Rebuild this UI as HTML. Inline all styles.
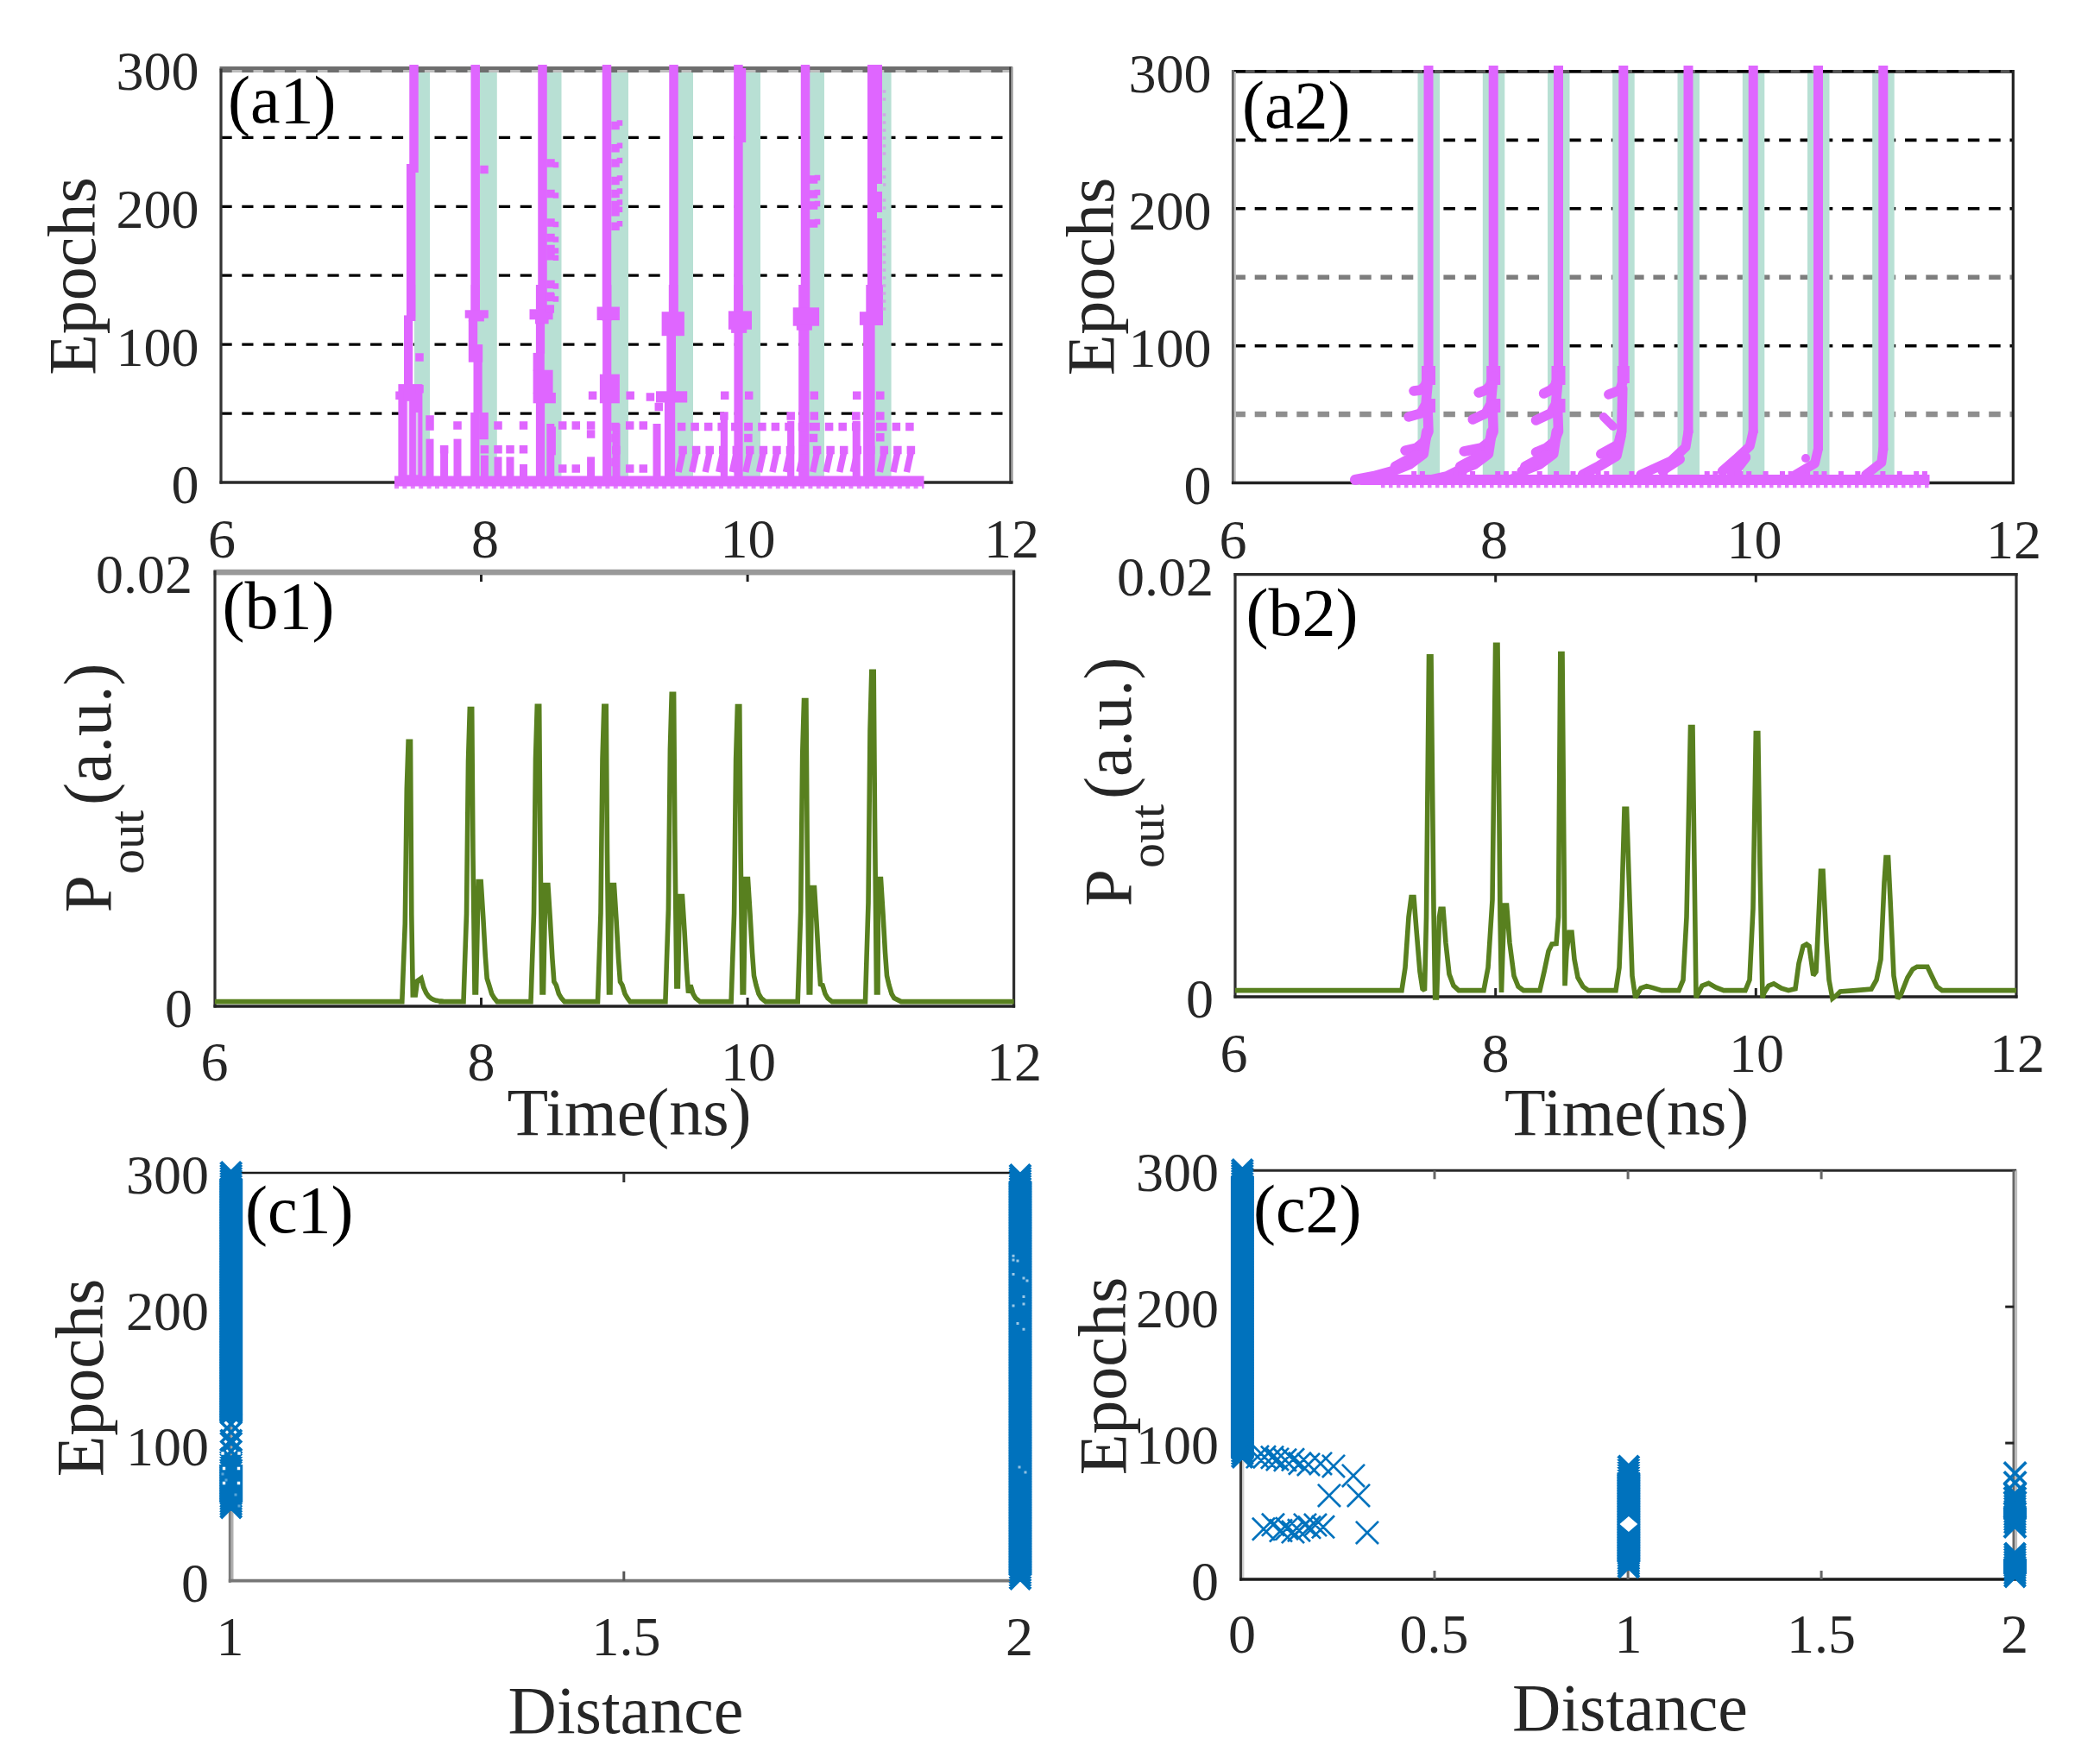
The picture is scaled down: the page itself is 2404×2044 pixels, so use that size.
<!DOCTYPE html>
<html lang="en"><head><meta charset="utf-8"><title>Epochs, P out (a.u.) and Distance panels</title>
<style>html,body{margin:0;padding:0;background:#fff}body{width:2404px;height:2044px;overflow:hidden}svg{display:block}text{font-family:"Liberation Serif",serif}</style></head><body>
<svg width="2404" height="2044" viewBox="0 0 2404 2044">
<rect width="2404" height="2044" fill="#fff"/>
<g id="a1">
<line x1="256" y1="159.4" x2="1171.5" y2="159.4" stroke="#000" stroke-width="3.2" stroke-dasharray="13.2 11.6" stroke-dashoffset="0.5"/>
<line x1="256" y1="239.3" x2="1171.5" y2="239.3" stroke="#000" stroke-width="3.2" stroke-dasharray="13.2 11.6" stroke-dashoffset="0.5"/>
<line x1="256" y1="319.2" x2="1171.5" y2="319.2" stroke="#000" stroke-width="3.2" stroke-dasharray="13.2 11.6" stroke-dashoffset="0.5"/>
<line x1="256" y1="399.2" x2="1171.5" y2="399.2" stroke="#000" stroke-width="3.2" stroke-dasharray="13.2 11.6" stroke-dashoffset="0.5"/>
<line x1="256" y1="479.1" x2="1171.5" y2="479.1" stroke="#000" stroke-width="3.2" stroke-dasharray="13.2 11.6" stroke-dashoffset="0.5"/>
<rect x="480" y="79.5" width="18" height="479.5" fill="#b8e0d4"/>
<rect x="552" y="79.5" width="23.8" height="479.5" fill="#b8e0d4"/>
<rect x="629" y="79.5" width="21.5" height="479.5" fill="#b8e0d4"/>
<rect x="704" y="79.5" width="24" height="479.5" fill="#b8e0d4"/>
<rect x="780" y="79.5" width="23" height="479.5" fill="#b8e0d4"/>
<rect x="856" y="79.5" width="25" height="479.5" fill="#b8e0d4"/>
<rect x="933" y="79.5" width="22" height="479.5" fill="#b8e0d4"/>
<rect x="1010" y="79.5" width="22.6" height="479.5" fill="#b8e0d4"/>
<rect x="254.5" y="77" width="918.5" height="4" fill="#6e6e6e"/>
<rect x="254.5" y="81" width="918.5" height="3" fill="#bdbdbd"/>
<line x1="256" y1="82.5" x2="1171.5" y2="82.5" stroke="#6e6e6e" stroke-width="3" stroke-dasharray="13.2 11.6" stroke-dashoffset="0.5"/>
<line x1="256" y1="79.5" x2="256" y2="560.5" stroke="#333" stroke-width="3.2"/>
<line x1="1170.5" y1="77.5" x2="1170.5" y2="560.5" stroke="#333" stroke-width="2.4"/>
<line x1="1172.5" y1="77.5" x2="1172.5" y2="560.5" stroke="#9a9a9a" stroke-width="2.4"/>
<line x1="254.5" y1="559" x2="1173.5" y2="559" stroke="#2a2a2a" stroke-width="3.4"/>
<line x1="479.5" y1="75" x2="479.5" y2="200" stroke="#df66ff" stroke-width="10.5"/>
<line x1="476.2" y1="190" x2="476.2" y2="372" stroke="#df66ff" stroke-width="10.5"/>
<line x1="550.7" y1="75" x2="550.7" y2="372" stroke="#df66ff" stroke-width="10.5"/>
<line x1="628.5" y1="75" x2="628.5" y2="372" stroke="#df66ff" stroke-width="10.5"/>
<line x1="703" y1="75" x2="703" y2="372" stroke="#df66ff" stroke-width="10.5"/>
<line x1="780.5" y1="75" x2="780.5" y2="372" stroke="#df66ff" stroke-width="10.5"/>
<line x1="855.4" y1="75" x2="855.4" y2="372" stroke="#df66ff" stroke-width="10.5"/>
<line x1="933" y1="75" x2="933" y2="372" stroke="#df66ff" stroke-width="10.5"/>
<line x1="1013.5" y1="75" x2="1013.5" y2="372" stroke="#df66ff" stroke-width="17"/>
<rect x="471.2" y="330" width="9.9" height="37.8" fill="#df66ff"/>
<rect x="468" y="365.4" width="10.2" height="83" fill="#df66ff"/>
<rect x="461.4" y="445.1" width="28" height="108.5" fill="#df66ff"/>
<path d="M472.9 464.8V550.3" stroke="#f3d9fb" stroke-width="2.5"/>
<path d="M483.1 478V550.3" stroke="#d9c9ee" stroke-width="2.5"/>
<rect x="545.6" y="330" width="10.4" height="29.6" fill="#df66ff"/>
<rect x="538.7" y="359.3" width="27.1" height="9.4" fill="#df66ff"/>
<rect x="542.8" y="367" width="18.1" height="5.4" fill="#df66ff"/>
<rect x="542.8" y="371.1" width="10.4" height="29.6" fill="#df66ff"/>
<rect x="542.8" y="399.1" width="16.4" height="20.6" fill="#df66ff"/>
<rect x="548.5" y="418.8" width="10.2" height="60" fill="#df66ff"/>
<rect x="545.2" y="478" width="10.2" height="75.6" fill="#df66ff"/>
<rect x="555.1" y="478" width="10.7" height="31.2" fill="#df66ff"/>
<rect x="620.9" y="330" width="10.2" height="28.8" fill="#df66ff"/>
<rect x="613.5" y="358.3" width="27.1" height="12" fill="#df66ff"/>
<rect x="620" y="369.5" width="15.6" height="5.8" fill="#df66ff"/>
<rect x="620.9" y="374.4" width="10.2" height="35.4" fill="#df66ff"/>
<rect x="617.6" y="408.9" width="13.2" height="20.6" fill="#df66ff"/>
<rect x="617.6" y="428.7" width="23" height="27.1" fill="#df66ff"/>
<rect x="617.6" y="455" width="26.3" height="12.3" fill="#df66ff"/>
<rect x="620.9" y="466.5" width="10.2" height="87.1" fill="#df66ff"/>
<rect x="634" y="494.4" width="9.9" height="32.9" fill="#df66ff"/>
<rect x="698.1" y="330" width="10.2" height="26.3" fill="#df66ff"/>
<rect x="691.6" y="355.5" width="26.3" height="15.6" fill="#df66ff"/>
<rect x="698.1" y="370.3" width="10.2" height="64.1" fill="#df66ff"/>
<rect x="694.9" y="433.6" width="23" height="33.7" fill="#df66ff"/>
<rect x="698.1" y="466.5" width="10.2" height="87.1" fill="#df66ff"/>
<rect x="774.8" y="330" width="10.7" height="32.9" fill="#df66ff"/>
<rect x="766.6" y="361.2" width="26.3" height="28" fill="#df66ff"/>
<rect x="772.3" y="387.5" width="10.7" height="67.4" fill="#df66ff"/>
<rect x="760" y="453.3" width="36.2" height="13.2" fill="#df66ff"/>
<rect x="769.9" y="464.8" width="12.3" height="88.8" fill="#df66ff"/>
<rect x="850.4" y="330" width="10.2" height="223.6" fill="#df66ff"/>
<rect x="843.9" y="360.4" width="27.1" height="21.4" fill="#df66ff"/>
<rect x="847.1" y="381" width="18.1" height="4.9" fill="#df66ff"/>
<rect x="834.8" y="478" width="8.2" height="75.6" fill="#df66ff"/>
<rect x="925.2" y="330" width="12.3" height="223.6" fill="#df66ff"/>
<rect x="918.7" y="356.3" width="30.4" height="21.4" fill="#df66ff"/>
<rect x="922.8" y="376.9" width="18.1" height="5.8" fill="#df66ff"/>
<rect x="912.1" y="487.8" width="8.2" height="65.8" fill="#df66ff"/>
<rect x="1003.3" y="330" width="19.7" height="46.9" fill="#df66ff"/>
<rect x="995.9" y="361.2" width="27.1" height="15.6" fill="#df66ff"/>
<rect x="1000.1" y="376" width="13.5" height="177.6" fill="#df66ff"/>
<rect x="987.7" y="487.8" width="9" height="65.8" fill="#df66ff"/>
<path d="M1024.5 106h0M1024.5 115h0M1024.5 133h0M1024.5 142h0M1024.5 151h0M1024.5 160h0M1024.5 169h0M1024.5 178h0M1024.5 196h0M1024.5 205h0M1024.5 214h0M1024.5 232h0M1024.5 241h0M1024.5 268h0M1024.5 277h0M1024.5 286h0M1024.5 295h0M1024.5 304h0M1024.5 313h0M1024.5 322h0M1024.5 331h0M1024.5 340h0M1024.5 349h0M1024.5 358h0" stroke="#cda9e6" stroke-width="3.6" stroke-linecap="square" fill="none"/>
<rect x="860" y="79" width="4.2" height="86" fill="#df66ff"/>
<rect x="1016" y="213" width="7" height="9" fill="#b8e0d4"/>
<rect x="1016" y="246" width="7" height="7" fill="#b8e0d4"/>
<line x1="457" y1="557.5" x2="1070.5" y2="557.5" stroke="#df66ff" stroke-width="12"/>
<line x1="457" y1="564.5" x2="1070.5" y2="564.5" stroke="#df66ff" stroke-width="3.5" stroke-dasharray="5 4.4" opacity="0.8"/>
<line x1="498" y1="559" x2="498" y2="508.6" stroke="#df66ff" stroke-width="9"/>
<line x1="514.6" y1="559" x2="514.6" y2="517" stroke="#df66ff" stroke-width="9"/>
<line x1="530" y1="559" x2="530" y2="508.6" stroke="#df66ff" stroke-width="9"/>
<line x1="561.4" y1="559" x2="561.4" y2="527.6" stroke="#df66ff" stroke-width="9"/>
<line x1="577" y1="559" x2="577" y2="529.4" stroke="#df66ff" stroke-width="9"/>
<line x1="591" y1="559" x2="591" y2="529.4" stroke="#df66ff" stroke-width="9"/>
<line x1="606.5" y1="559" x2="606.5" y2="538" stroke="#df66ff" stroke-width="9"/>
<line x1="637.8" y1="559" x2="637.8" y2="491" stroke="#df66ff" stroke-width="9"/>
<line x1="684.6" y1="559" x2="684.6" y2="529.4" stroke="#df66ff" stroke-width="9"/>
<line x1="714" y1="559" x2="714" y2="491" stroke="#df66ff" stroke-width="9"/>
<line x1="761" y1="559" x2="761" y2="491" stroke="#df66ff" stroke-width="9"/>
<line x1="791.1" y1="524" x2="786.1" y2="547" stroke="#df66ff" stroke-width="7.5"/>
<line x1="806.6" y1="524" x2="801.6" y2="547" stroke="#df66ff" stroke-width="7.5"/>
<line x1="822.2" y1="524" x2="817.2" y2="547" stroke="#df66ff" stroke-width="7.5"/>
<line x1="837.7" y1="524" x2="832.7" y2="547" stroke="#df66ff" stroke-width="7.5"/>
<line x1="853.3" y1="524" x2="848.3" y2="547" stroke="#df66ff" stroke-width="7.5"/>
<line x1="868.8" y1="524" x2="863.8" y2="547" stroke="#df66ff" stroke-width="7.5"/>
<line x1="884.4" y1="524" x2="879.4" y2="547" stroke="#df66ff" stroke-width="7.5"/>
<line x1="899.9" y1="524" x2="894.9" y2="547" stroke="#df66ff" stroke-width="7.5"/>
<line x1="915.5" y1="524" x2="910.5" y2="547" stroke="#df66ff" stroke-width="7.5"/>
<line x1="931" y1="524" x2="926" y2="547" stroke="#df66ff" stroke-width="7.5"/>
<line x1="946.6" y1="524" x2="941.6" y2="547" stroke="#df66ff" stroke-width="7.5"/>
<line x1="962.1" y1="524" x2="957.1" y2="547" stroke="#df66ff" stroke-width="7.5"/>
<line x1="977.7" y1="524" x2="972.7" y2="547" stroke="#df66ff" stroke-width="7.5"/>
<line x1="993.2" y1="524" x2="988.2" y2="547" stroke="#df66ff" stroke-width="7.5"/>
<line x1="1008.8" y1="524" x2="1003.8" y2="547" stroke="#df66ff" stroke-width="7.5"/>
<line x1="1024.3" y1="524" x2="1019.3" y2="547" stroke="#df66ff" stroke-width="7.5"/>
<line x1="1039.9" y1="524" x2="1034.9" y2="547" stroke="#df66ff" stroke-width="7.5"/>
<line x1="1055.4" y1="524" x2="1050.4" y2="547" stroke="#df66ff" stroke-width="7.5"/>
<path d="M486 413.9h0M486 450.8h0M463 458.2h0M637.3 343.2h0M637.3 358h0M686.6 458.2h0M730.2 458.2h0M712.9 494.4h0M712.9 507.6h0M713.8 521.5h0M712.9 535.5h0M753.4 459.9h0M763.3 471.4h0M839.7 458.2h0M867.7 458.2h0M838.9 482.1h0M866.9 494.4h0M866.9 507.6h0M943.3 458.2h0M916.2 482.1h0M943.3 482.1h0M942.5 494.4h0M942.5 507.6h0M992.7 458.2h0M1019.8 458.2h0M991.8 482.1h0M1019.8 482.1h0M1019.8 494.4h0M1019.8 506.8h0M561 196.5h0M638 189h0M638 224.4h0M638 258h0M638 275.4h0M638 288.5h0M638 296.8h0M638 329.6h0M638 344.4h0M713 145.5h0M713 171.8h0M713 189h0M713 209.6h0M713 224.4h0M713 237.6h0M713 245.8h0M713 262.2h0M942.6 208h0M942.6 225h0M942.6 238h0M942.6 259h0M498 486h0M498 494h0M514.6 520.7h0M530 493h0M561.4 520.7h0M577 493h0M577 520.7h0M591 520.7h0M606.5 493h0M606.5 520.7h0M651.7 493h0M651.7 543h0M667.3 493h0M667.3 543h0M684.6 493h0M684.6 503h0M729.7 493h0M729.7 543h0M745.3 493h0M745.3 543h0M789.6 494.4h0M791.1 521.5h0M805.1 494.4h0M806.6 521.5h0M820.7 494.4h0M822.2 521.5h0M836.2 494.4h0M837.7 521.5h0M851.8 494.4h0M853.3 521.5h0M867.3 494.4h0M868.8 521.5h0M882.9 494.4h0M884.4 521.5h0M898.4 494.4h0M899.9 521.5h0M914 494.4h0M915.5 521.5h0M929.5 494.4h0M931 521.5h0M945.1 494.4h0M946.6 521.5h0M960.6 494.4h0M962.1 521.5h0M976.2 494.4h0M977.7 521.5h0M991.7 494.4h0M993.2 521.5h0M1007.3 494.4h0M1008.8 521.5h0M1022.8 494.4h0M1024.3 521.5h0M1038.4 494.4h0M1039.9 521.5h0M1053.9 494.4h0M1055.4 521.5h0" stroke="#df66ff" stroke-width="9.5" stroke-linecap="square" fill="none"/>
<path d="M644 191h0M644 226.4h0M644 260h0M644 277.4h0M644 290.5h0M644 298.8h0M644 331.6h0M644 346.4h0M718 142.5h0M718 168.8h0M718 186h0M718 206.6h0M718 221.4h0M718 234.6h0M718 242.8h0M718 259.2h0M947 206h0M947 223h0M947 236h0M947 257h0" stroke="#df66ff" stroke-width="6.5" stroke-linecap="square" fill="none"/>
</g>
<g id="a2">
<line x1="1429.4" y1="162.4" x2="2332.3" y2="162.4" stroke="#000" stroke-width="3.6" stroke-dasharray="13.5 10.8" stroke-dashoffset="0"/>
<line x1="1429.4" y1="241.8" x2="2332.3" y2="241.8" stroke="#000" stroke-width="3.6" stroke-dasharray="13.5 10.8" stroke-dashoffset="0"/>
<line x1="1429.4" y1="321.2" x2="2332.3" y2="321.2" stroke="#7d7d7d" stroke-width="5.5" stroke-dasharray="13.5 10.8" stroke-dashoffset="0"/>
<line x1="1429.4" y1="400.7" x2="2332.3" y2="400.7" stroke="#000" stroke-width="3.6" stroke-dasharray="13.5 10.8" stroke-dashoffset="0"/>
<line x1="1429.4" y1="480.1" x2="2332.3" y2="480.1" stroke="#8e8e8e" stroke-width="6.5" stroke-dasharray="13.5 10.8" stroke-dashoffset="0"/>
<rect x="1642.5" y="83" width="25.5" height="476.5" fill="#b8e0d4"/>
<rect x="1717.8" y="83" width="25.5" height="476.5" fill="#b8e0d4"/>
<rect x="1793" y="83" width="25.5" height="476.5" fill="#b8e0d4"/>
<rect x="1868.2" y="83" width="25.5" height="476.5" fill="#b8e0d4"/>
<rect x="1943.5" y="83" width="25.5" height="476.5" fill="#b8e0d4"/>
<rect x="2018.8" y="83" width="25.5" height="476.5" fill="#b8e0d4"/>
<rect x="2094" y="83" width="25.5" height="476.5" fill="#b8e0d4"/>
<rect x="2169.2" y="83" width="25.5" height="476.5" fill="#b8e0d4"/>
<line x1="1429.4" y1="83" x2="2332.3" y2="83" stroke="#555" stroke-width="4"/>
<line x1="1429.4" y1="82.5" x2="2332.3" y2="82.5" stroke="#000" stroke-width="3" stroke-dasharray="13.5 10.8" stroke-dashoffset="0"/>
<line x1="1428.4" y1="81" x2="1428.4" y2="561" stroke="#666" stroke-width="3"/>
<line x1="1430.9" y1="83" x2="1430.9" y2="559.5" stroke="#c4c4c4" stroke-width="2"/>
<line x1="2332.3" y1="81" x2="2332.3" y2="561" stroke="#222" stroke-width="3.2"/>
<line x1="1426.9" y1="559.5" x2="2333.8" y2="559.5" stroke="#222" stroke-width="3.4"/>
<line x1="1655" y1="76" x2="1655" y2="436" stroke="#df66ff" stroke-width="11"/>
<line x1="1730.2" y1="76" x2="1730.2" y2="440" stroke="#df66ff" stroke-width="11"/>
<line x1="1805.5" y1="76" x2="1805.5" y2="440" stroke="#df66ff" stroke-width="11"/>
<line x1="1880.8" y1="76" x2="1880.8" y2="440" stroke="#df66ff" stroke-width="11"/>
<line x1="1956" y1="76" x2="1956" y2="502" stroke="#df66ff" stroke-width="11"/>
<line x1="2031.2" y1="76" x2="2031.2" y2="502" stroke="#df66ff" stroke-width="11"/>
<line x1="2106.5" y1="76" x2="2106.5" y2="522" stroke="#df66ff" stroke-width="11"/>
<line x1="2181.8" y1="76" x2="2181.8" y2="522" stroke="#df66ff" stroke-width="11"/>
<line x1="1655" y1="424" x2="1655" y2="446" stroke="#df66ff" stroke-width="16"/>
<polyline fill="none" stroke="#df66ff" stroke-width="11.5" points="1655,436 1651,447 1646,452 1638,453" stroke-linejoin="round" stroke-linecap="round"/>
<polyline fill="none" stroke="#df66ff" stroke-width="11.5" points="1654,446 1652,468 1646,479 1632,483" stroke-linejoin="round" stroke-linecap="round"/>
<line x1="1657.5" y1="462" x2="1657.5" y2="478" stroke="#df66ff" stroke-width="11"/>
<polyline fill="none" stroke="#df66ff" stroke-width="11.5" points="1654,470 1655,500 1650,512 1641,519 1628,522" stroke-linejoin="round" stroke-linecap="round"/>
<polyline fill="none" stroke="#df66ff" stroke-width="12" points="1653,500 1649,526 1633,538 1613,546 1591.2,552 1570,556" stroke-linejoin="round" stroke-linecap="round"/>
<polyline fill="none" stroke="#df66ff" stroke-width="13" points="1641,528 1617,541" stroke-linejoin="round" stroke-linecap="round"/>
<line x1="1730.2" y1="424" x2="1730.2" y2="446" stroke="#df66ff" stroke-width="16"/>
<polyline fill="none" stroke="#df66ff" stroke-width="11.5" points="1730.2,436 1726.2,447 1721.2,452 1713.2,455" stroke-linejoin="round" stroke-linecap="round"/>
<polyline fill="none" stroke="#df66ff" stroke-width="11.5" points="1729.2,446 1727.2,468 1721.2,479 1706.2,486" stroke-linejoin="round" stroke-linecap="round"/>
<line x1="1732.8" y1="462" x2="1732.8" y2="478" stroke="#df66ff" stroke-width="11"/>
<polyline fill="none" stroke="#df66ff" stroke-width="11.5" points="1729.2,470 1730.2,500 1725.2,512 1716.2,519 1696.2,523" stroke-linejoin="round" stroke-linecap="round"/>
<polyline fill="none" stroke="#df66ff" stroke-width="12" points="1728.2,500 1724.2,526 1708.2,538 1688.2,546 1676.2,552 1658.2,556" stroke-linejoin="round" stroke-linecap="round"/>
<polyline fill="none" stroke="#df66ff" stroke-width="13" points="1716.2,528 1692.2,541" stroke-linejoin="round" stroke-linecap="round"/>
<line x1="1805.5" y1="424" x2="1805.5" y2="446" stroke="#df66ff" stroke-width="16"/>
<polyline fill="none" stroke="#df66ff" stroke-width="11.5" points="1805.5,436 1801.5,447 1796.5,452 1788.5,456" stroke-linejoin="round" stroke-linecap="round"/>
<polyline fill="none" stroke="#df66ff" stroke-width="11.5" points="1804.5,446 1802.5,468 1796.5,479 1779.5,487" stroke-linejoin="round" stroke-linecap="round"/>
<line x1="1808" y1="462" x2="1808" y2="478" stroke="#df66ff" stroke-width="11"/>
<polyline fill="none" stroke="#df66ff" stroke-width="11.5" points="1804.5,470 1805.5,500 1800.5,512 1791.5,519 1779.5,524" stroke-linejoin="round" stroke-linecap="round"/>
<polyline fill="none" stroke="#df66ff" stroke-width="12" points="1803.5,500 1799.5,526 1783.5,538 1763.5,546 1763.5,552 1749.5,556" stroke-linejoin="round" stroke-linecap="round"/>
<polyline fill="none" stroke="#df66ff" stroke-width="13" points="1791.5,528 1767.5,541" stroke-linejoin="round" stroke-linecap="round"/>
<line x1="1880.8" y1="424" x2="1880.8" y2="444" stroke="#df66ff" stroke-width="14"/>
<polyline fill="none" stroke="#df66ff" stroke-width="11.5" points="1880.8,440 1876.8,452 1863.8,457" stroke-linejoin="round" stroke-linecap="round"/>
<polyline fill="none" stroke="#df66ff" stroke-width="11.5" points="1879.8,450 1878.8,500 1874.8,515 1854.8,526" stroke-linejoin="round" stroke-linecap="round"/>
<polyline fill="none" stroke="#df66ff" stroke-width="10" points="1857.8,483 1868.8,494" stroke-linejoin="round" stroke-linecap="round"/>
<polyline fill="none" stroke="#df66ff" stroke-width="12" points="1877.8,505 1872.8,528 1852.8,540 1833.8,550" stroke-linejoin="round" stroke-linecap="round"/>
<polyline fill="none" stroke="#df66ff" stroke-width="11" points="1956,500 1953,518 1936,534 1901,550" stroke-linejoin="round" stroke-linecap="round"/>
<polyline fill="none" stroke="#df66ff" stroke-width="12" points="1946,532 1926,545" stroke-linejoin="round" stroke-linecap="round"/>
<polyline fill="none" stroke="#df66ff" stroke-width="11" points="2031.2,500 2027.2,517 2011.2,532 1995.2,546" stroke-linejoin="round" stroke-linecap="round"/>
<polyline fill="none" stroke="#df66ff" stroke-width="14" points="2021.2,530 2007.2,548" stroke-linejoin="round" stroke-linecap="round"/>
<polyline fill="none" stroke="#df66ff" stroke-width="11" points="2106.5,520 2102.5,537 2080.5,550" stroke-linejoin="round" stroke-linecap="round"/>
<path d="M2092 531h0" stroke="#df66ff" stroke-width="10" stroke-linecap="round" fill="none"/>
<polyline fill="none" stroke="#df66ff" stroke-width="11" points="2181.8,520 2179.8,536 2161.8,550" stroke-linejoin="round" stroke-linecap="round"/>
<line x1="1576" y1="556" x2="2235.5" y2="556" stroke="#df66ff" stroke-width="12"/>
<line x1="1600" y1="563.5" x2="2235.5" y2="563.5" stroke="#df66ff" stroke-width="3.5" stroke-dasharray="4.5 4.5" opacity="0.85"/>
<path d="M1638.2 549h0M1647.9 549h0M1686.7 549h0M1696.4 549h0M1706.1 549h0M1735.2 549h0M1744.9 549h0M1754.6 549h0M1783.7 549h0M1803.1 549h0M1822.5 549h0M1832.2 549h0M1851.6 549h0M1861.3 549h0M1890.4 549h0M1929.2 549h0M1977.7 549h0M1987.4 549h0M1997.1 549h0M2006.8 549h0M2016.5 549h0M2026.2 549h0M2045.6 549h0M2065 549h0M2074.7 549h0M2094.1 549h0M2103.8 549h0M2113.5 549h0M2132.9 549h0M2152.3 549h0M2181.4 549h0M2200.8 549h0M2220.2 549h0M2229.9 549h0" stroke="#df66ff" stroke-width="6" stroke-linecap="square" fill="none"/>
</g>
<g id="b1">
<rect x="247.5" y="659.8" width="928.6" height="6.6" fill="#999"/>
<line x1="249" y1="661" x2="249" y2="1167.5" stroke="#2e2e2e" stroke-width="3.2"/>
<line x1="1174.6" y1="661" x2="1174.6" y2="1167.5" stroke="#2e2e2e" stroke-width="3.2"/>
<line x1="247.5" y1="1166" x2="1176.1" y2="1166" stroke="#222" stroke-width="3.6"/>
<line x1="557.5" y1="666" x2="557.5" y2="674" stroke="#222" stroke-width="3"/>
<line x1="557.5" y1="1166" x2="557.5" y2="1156" stroke="#222" stroke-width="3"/>
<line x1="866.1" y1="666" x2="866.1" y2="674" stroke="#222" stroke-width="3"/>
<line x1="866.1" y1="1166" x2="866.1" y2="1156" stroke="#222" stroke-width="3"/>
<polyline fill="none" stroke="#58801f" stroke-width="5.6" points="249,1160.6 465.8,1160.6 467.3,1121.4 469.3,1070.2 471.3,913.5 473.1,859.2 475.5,859.2 476.8,1059.2 478.3,1153 481.3,1153 483.5,1136.6 488,1133.6 490.9,1144.2 493.8,1150.7 496.6,1154.6 499.5,1156.9 502.4,1158.4 505.2,1159.3 508.1,1159.8 511,1160.1 511,1160.6 537,1160.6 538.5,1116.5 540.5,1058.9 542.5,882.6 544.3,821.6 546.7,821.6 548,991.6 550,1150 551.5,1150 554.2,1021.6 557.2,1021.6 559.7,1061.6 562.2,1106.6 564.2,1133.6 566.7,1141.6 569.7,1151.6 572.7,1156.6 576,1160.6 615,1160.6 616.5,1116.1 618.5,1057.9 620.5,879.8 622.3,818.2 624.7,818.2 626,988.2 628,1150 629.5,1150 631.9,1025.6 634.9,1025.6 637.4,1065.6 639.9,1110.6 641.9,1137.6 644.4,1141.6 647.4,1151.6 650.4,1156.6 654,1160.6 692.5,1160.6 694,1116.1 696,1057.9 698,879.8 699.8,818.2 702.2,818.2 703.5,988.2 705.5,1150 707,1150 708.5,1025.6 711.5,1025.6 714,1065.6 716.5,1110.6 718.5,1137.6 721,1141.6 724,1151.6 727,1156.6 730,1160.6 770.9,1160.6 772.4,1114.3 774.4,1053.7 776.4,868.5 778.2,804.4 780.6,804.4 781.9,974.4 783.9,1143 785.4,1143 787.5,1038.6 790.5,1038.6 793,1078.6 795.5,1123.6 797.5,1150.6 800,1141.6 803,1151.6 806,1156.6 811,1160.6 847.1,1160.6 848.6,1116.1 850.6,1058 852.6,880.2 854.4,818.6 856.8,818.6 858.1,988.6 860.1,1150 861.6,1150 863.5,1018.6 866.5,1018.6 869,1058.6 871.5,1103.6 873.5,1130.6 876,1141.6 879,1151.6 882,1156.6 887,1160.6 924.2,1160.6 925.7,1115.2 927.7,1055.9 929.7,874.4 931.5,811.6 933.9,811.6 935.2,981.6 937.2,1150 938.7,1150 940.5,1028.6 943.5,1028.6 946,1068.6 948.5,1113.6 950.5,1140.6 953,1141.6 956,1151.6 959,1156.6 964,1160.6 1002.5,1160.6 1004,1110.9 1006,1045.9 1008,847 1009.8,778.2 1012.2,778.2 1013.5,948.2 1015.5,1150 1017,1150 1017.5,1018.6 1020.5,1018.6 1023,1058.6 1025.5,1103.6 1027.5,1130.6 1030,1141.6 1033,1151.6 1036,1156.6 1044,1160.6 1174.6,1160.6" stroke-linejoin="miter" stroke-miterlimit="2"/>
</g>
<g id="b2">
<line x1="1431" y1="664.1" x2="1431" y2="1156.5" stroke="#2e2e2e" stroke-width="3.2"/>
<line x1="2336" y1="664.1" x2="2336" y2="1156.5" stroke="#2e2e2e" stroke-width="3.2"/>
<line x1="1429.5" y1="665.6" x2="2337.5" y2="665.6" stroke="#2a2a2a" stroke-width="3.2"/>
<line x1="1429.5" y1="1155" x2="2337.5" y2="1155" stroke="#222" stroke-width="3.4"/>
<line x1="1732.7" y1="665.6" x2="1732.7" y2="674.6" stroke="#222" stroke-width="3"/>
<line x1="1732.7" y1="1155" x2="1732.7" y2="1145" stroke="#222" stroke-width="3"/>
<line x1="2034.3" y1="665.6" x2="2034.3" y2="674.6" stroke="#222" stroke-width="3"/>
<line x1="2034.3" y1="1155" x2="2034.3" y2="1145" stroke="#222" stroke-width="3"/>
<polyline fill="none" stroke="#58801f" stroke-width="5.6" points="1431,1147.6 1624,1147.6 1628,1121.2 1632,1062.6 1635,1039.6 1638,1039.6 1641,1077.6 1645,1126 1648,1145.7 1650.5,1147.6 1652.5,1062.6 1655.5,760.9 1658,760.9 1661,1052.6 1662.6,1156 1664.5,1156 1667.5,1062.6 1669,1053.2 1672,1053.2 1675,1092.5 1679,1128.8 1684,1142.2 1690,1147.6 1719,1147.6 1724,1121.2 1729,1042.6 1732.6,747.4 1735,747.4 1738,1062.6 1739.5,1150 1741,1102.1 1743,1049.1 1745.6,1049.1 1749,1092.5 1754,1130.8 1759,1143.2 1765,1147.6 1784,1147.6 1789,1126 1794,1102.1 1798,1094 1803,1093.5 1805.5,1062.6 1807.8,757.6 1810,757.6 1812,1002.6 1813,1142.2 1815,1102.1 1818,1080.4 1821,1080.4 1824,1111.6 1828,1132.7 1834,1143.2 1840,1147.6 1872,1147.6 1876,1121.2 1879,1042.6 1882,937.2 1884.6,937.2 1888,1042.6 1891,1130.8 1894.7,1156 1897,1152 1901,1145.1 1907.7,1142.6 1915,1144.6 1925,1147.6 1945,1147.6 1950,1135.5 1954,1062.6 1958.5,842.6 1961,842.6 1963,1002.6 1965,1156 1967,1152 1972,1142.2 1979.5,1139.4 1988,1144.2 1997,1147.6 2022,1147.6 2027,1135.5 2031,1052.6 2034.3,849.6 2036.8,849.6 2039,1002.6 2042,1156 2044,1150 2049,1142.2 2055,1139.9 2064,1145.1 2072,1147.6 2080,1145.7 2084,1116.4 2089,1096.3 2093,1094 2096,1096.3 2100.8,1130.2 2104,1126 2107,1062.6 2109.5,1009.4 2112,1009.4 2116,1092.5 2119,1135.5 2123,1157 2127,1154 2132,1149 2150,1147.6 2168,1146.1 2174,1135.5 2179,1111.6 2183,1022.6 2185,993.6 2187.6,993.6 2190,1042.6 2194,1130.8 2198.6,1157 2202,1153 2210,1132.7 2216,1123.1 2221,1120.2 2233,1120.2 2238,1130.8 2244,1143.2 2250,1147.6 2336,1147.6" stroke-linejoin="miter" stroke-miterlimit="2"/>
</g>
<g id="c1">
<line x1="266.3" y1="1359" x2="266.3" y2="1833.7" stroke="#7a7a7a" stroke-width="3"/>
<line x1="269.2" y1="1359" x2="269.2" y2="1831.7" stroke="#b0b0b0" stroke-width="2.6"/>
<line x1="267.6" y1="1359" x2="1180" y2="1359" stroke="#1a1a1a" stroke-width="2.6"/>
<line x1="264.8" y1="1831.7" x2="1180" y2="1831.7" stroke="#777" stroke-width="3.8"/>
<line x1="722.8" y1="1359" x2="722.8" y2="1370" stroke="#333" stroke-width="3"/>
<line x1="722.8" y1="1831.7" x2="722.8" y2="1820.7" stroke="#555" stroke-width="3"/>
<path d="M255.7 1346.5l23.9 23.9m0 -23.9l-23.9 23.9M255.7 1349.5l23.9 23.9m0 -23.9l-23.9 23.9M255.7 1352.5l23.9 23.9m0 -23.9l-23.9 23.9M255.7 1355.5l23.9 23.9m0 -23.9l-23.9 23.9M255.7 1358.5l23.9 23.9m0 -23.9l-23.9 23.9M255.7 1361.5l23.9 23.9m0 -23.9l-23.9 23.9M255.7 1364.5l23.9 23.9m0 -23.9l-23.9 23.9M255.7 1367.5l23.9 23.9m0 -23.9l-23.9 23.9M255.7 1370.5l23.9 23.9m0 -23.9l-23.9 23.9M255.7 1373.5l23.9 23.9m0 -23.9l-23.9 23.9M255.7 1376.5l23.9 23.9m0 -23.9l-23.9 23.9M255.7 1379.5l23.9 23.9m0 -23.9l-23.9 23.9M255.7 1382.5l23.9 23.9m0 -23.9l-23.9 23.9M255.7 1385.5l23.9 23.9m0 -23.9l-23.9 23.9M255.7 1388.5l23.9 23.9m0 -23.9l-23.9 23.9M255.7 1391.5l23.9 23.9m0 -23.9l-23.9 23.9M255.7 1394.5l23.9 23.9m0 -23.9l-23.9 23.9M255.7 1397.5l23.9 23.9m0 -23.9l-23.9 23.9M255.7 1400.5l23.9 23.9m0 -23.9l-23.9 23.9M255.7 1403.5l23.9 23.9m0 -23.9l-23.9 23.9M255.7 1406.5l23.9 23.9m0 -23.9l-23.9 23.9M255.7 1409.5l23.9 23.9m0 -23.9l-23.9 23.9M255.7 1412.5l23.9 23.9m0 -23.9l-23.9 23.9M255.7 1415.5l23.9 23.9m0 -23.9l-23.9 23.9M255.7 1418.5l23.9 23.9m0 -23.9l-23.9 23.9M255.7 1421.5l23.9 23.9m0 -23.9l-23.9 23.9M255.7 1424.5l23.9 23.9m0 -23.9l-23.9 23.9M255.7 1427.5l23.9 23.9m0 -23.9l-23.9 23.9M255.7 1430.5l23.9 23.9m0 -23.9l-23.9 23.9M255.7 1433.5l23.9 23.9m0 -23.9l-23.9 23.9M255.7 1436.5l23.9 23.9m0 -23.9l-23.9 23.9M255.7 1439.5l23.9 23.9m0 -23.9l-23.9 23.9M255.7 1442.5l23.9 23.9m0 -23.9l-23.9 23.9M255.7 1445.5l23.9 23.9m0 -23.9l-23.9 23.9M255.7 1448.5l23.9 23.9m0 -23.9l-23.9 23.9M255.7 1451.5l23.9 23.9m0 -23.9l-23.9 23.9M255.7 1454.5l23.9 23.9m0 -23.9l-23.9 23.9M255.7 1457.5l23.9 23.9m0 -23.9l-23.9 23.9M255.7 1460.5l23.9 23.9m0 -23.9l-23.9 23.9M255.7 1463.5l23.9 23.9m0 -23.9l-23.9 23.9M255.7 1466.5l23.9 23.9m0 -23.9l-23.9 23.9M255.7 1469.5l23.9 23.9m0 -23.9l-23.9 23.9M255.7 1472.5l23.9 23.9m0 -23.9l-23.9 23.9M255.7 1475.5l23.9 23.9m0 -23.9l-23.9 23.9M255.7 1478.5l23.9 23.9m0 -23.9l-23.9 23.9M255.7 1481.5l23.9 23.9m0 -23.9l-23.9 23.9M255.7 1484.5l23.9 23.9m0 -23.9l-23.9 23.9M255.7 1487.5l23.9 23.9m0 -23.9l-23.9 23.9M255.7 1490.5l23.9 23.9m0 -23.9l-23.9 23.9M255.7 1493.5l23.9 23.9m0 -23.9l-23.9 23.9M255.7 1496.5l23.9 23.9m0 -23.9l-23.9 23.9M255.7 1499.5l23.9 23.9m0 -23.9l-23.9 23.9M255.7 1502.5l23.9 23.9m0 -23.9l-23.9 23.9M255.7 1505.5l23.9 23.9m0 -23.9l-23.9 23.9M255.7 1508.5l23.9 23.9m0 -23.9l-23.9 23.9M255.7 1511.5l23.9 23.9m0 -23.9l-23.9 23.9M255.7 1514.5l23.9 23.9m0 -23.9l-23.9 23.9M255.7 1517.5l23.9 23.9m0 -23.9l-23.9 23.9M255.7 1520.5l23.9 23.9m0 -23.9l-23.9 23.9M255.7 1523.5l23.9 23.9m0 -23.9l-23.9 23.9M255.7 1526.5l23.9 23.9m0 -23.9l-23.9 23.9M255.7 1529.5l23.9 23.9m0 -23.9l-23.9 23.9M255.7 1532.5l23.9 23.9m0 -23.9l-23.9 23.9M255.7 1535.5l23.9 23.9m0 -23.9l-23.9 23.9M255.7 1538.5l23.9 23.9m0 -23.9l-23.9 23.9M255.7 1541.5l23.9 23.9m0 -23.9l-23.9 23.9M255.7 1544.5l23.9 23.9m0 -23.9l-23.9 23.9M255.7 1547.5l23.9 23.9m0 -23.9l-23.9 23.9M255.7 1550.5l23.9 23.9m0 -23.9l-23.9 23.9M255.7 1553.5l23.9 23.9m0 -23.9l-23.9 23.9M255.7 1556.5l23.9 23.9m0 -23.9l-23.9 23.9M255.7 1559.5l23.9 23.9m0 -23.9l-23.9 23.9M255.7 1562.5l23.9 23.9m0 -23.9l-23.9 23.9M255.7 1565.5l23.9 23.9m0 -23.9l-23.9 23.9M255.7 1568.5l23.9 23.9m0 -23.9l-23.9 23.9M255.7 1571.5l23.9 23.9m0 -23.9l-23.9 23.9M255.7 1574.5l23.9 23.9m0 -23.9l-23.9 23.9M255.7 1577.5l23.9 23.9m0 -23.9l-23.9 23.9M255.7 1580.5l23.9 23.9m0 -23.9l-23.9 23.9M255.7 1583.5l23.9 23.9m0 -23.9l-23.9 23.9M255.7 1586.5l23.9 23.9m0 -23.9l-23.9 23.9M255.7 1589.5l23.9 23.9m0 -23.9l-23.9 23.9M255.7 1592.5l23.9 23.9m0 -23.9l-23.9 23.9M255.7 1595.5l23.9 23.9m0 -23.9l-23.9 23.9M255.7 1598.5l23.9 23.9m0 -23.9l-23.9 23.9M255.7 1601.5l23.9 23.9m0 -23.9l-23.9 23.9M255.7 1604.5l23.9 23.9m0 -23.9l-23.9 23.9M255.7 1607.5l23.9 23.9m0 -23.9l-23.9 23.9M255.7 1610.5l23.9 23.9m0 -23.9l-23.9 23.9M255.7 1613.5l23.9 23.9m0 -23.9l-23.9 23.9M255.7 1616.5l23.9 23.9m0 -23.9l-23.9 23.9M255.7 1619.5l23.9 23.9m0 -23.9l-23.9 23.9M255.7 1622.5l23.9 23.9m0 -23.9l-23.9 23.9M255.7 1625.5l23.9 23.9m0 -23.9l-23.9 23.9" stroke="#0072bd" stroke-width="4.4" fill="none"/>
<rect x="254.2" y="1366" width="27" height="281" fill="#0072bd"/>
<path d="M255.5 1637.8l24.5 24.5m0 -24.5l-24.5 24.5M255.5 1647.3l24.5 24.5m0 -24.5l-24.5 24.5M255.5 1656.8l24.5 24.5m0 -24.5l-24.5 24.5M255.5 1660l24.5 24.5m0 -24.5l-24.5 24.5M255.5 1669.3l24.5 24.5m0 -24.5l-24.5 24.5" stroke="#0072bd" stroke-width="3.6" fill="none"/>
<path d="M255.7 1678l23.9 23.9m0 -23.9l-23.9 23.9M255.7 1681l23.9 23.9m0 -23.9l-23.9 23.9M255.7 1684l23.9 23.9m0 -23.9l-23.9 23.9M255.7 1687l23.9 23.9m0 -23.9l-23.9 23.9M255.7 1690l23.9 23.9m0 -23.9l-23.9 23.9M255.7 1693l23.9 23.9m0 -23.9l-23.9 23.9M255.7 1696l23.9 23.9m0 -23.9l-23.9 23.9M255.7 1699l23.9 23.9m0 -23.9l-23.9 23.9M255.7 1702l23.9 23.9m0 -23.9l-23.9 23.9M255.7 1705l23.9 23.9m0 -23.9l-23.9 23.9M255.7 1708l23.9 23.9m0 -23.9l-23.9 23.9M255.7 1711l23.9 23.9m0 -23.9l-23.9 23.9M255.7 1714l23.9 23.9m0 -23.9l-23.9 23.9M255.7 1717l23.9 23.9m0 -23.9l-23.9 23.9M255.7 1720l23.9 23.9m0 -23.9l-23.9 23.9M255.7 1723l23.9 23.9m0 -23.9l-23.9 23.9M255.7 1726l23.9 23.9m0 -23.9l-23.9 23.9M255.7 1729l23.9 23.9m0 -23.9l-23.9 23.9M255.7 1732l23.9 23.9m0 -23.9l-23.9 23.9M255.7 1735l23.9 23.9m0 -23.9l-23.9 23.9" stroke="#0072bd" stroke-width="4.4" fill="none"/>
<rect x="254.2" y="1697" width="27" height="44" fill="#0072bd"/>
<path d="M259.5 1701.5h0M276.5 1701.5h0M259.5 1718.5h0M276.5 1718.5h0M258 1684h0M277 1684h0" stroke="#fff" stroke-width="3.4" stroke-linecap="square" fill="none"/>
<path d="M262 1715h0M273 1732h0M258 1708h0M277 1745h0" stroke="#5aa5d8" stroke-width="3" stroke-linecap="square" fill="none"/>
<path d="M1170 1349.5l23.9 23.9m0 -23.9l-23.9 23.9M1170 1352.5l23.9 23.9m0 -23.9l-23.9 23.9M1170 1355.5l23.9 23.9m0 -23.9l-23.9 23.9M1170 1358.5l23.9 23.9m0 -23.9l-23.9 23.9M1170 1361.5l23.9 23.9m0 -23.9l-23.9 23.9M1170 1364.5l23.9 23.9m0 -23.9l-23.9 23.9M1170 1367.5l23.9 23.9m0 -23.9l-23.9 23.9M1170 1370.5l23.9 23.9m0 -23.9l-23.9 23.9M1170 1373.5l23.9 23.9m0 -23.9l-23.9 23.9M1170 1376.5l23.9 23.9m0 -23.9l-23.9 23.9M1170 1379.5l23.9 23.9m0 -23.9l-23.9 23.9M1170 1382.5l23.9 23.9m0 -23.9l-23.9 23.9M1170 1385.5l23.9 23.9m0 -23.9l-23.9 23.9M1170 1388.5l23.9 23.9m0 -23.9l-23.9 23.9M1170 1391.5l23.9 23.9m0 -23.9l-23.9 23.9M1170 1394.5l23.9 23.9m0 -23.9l-23.9 23.9M1170 1397.5l23.9 23.9m0 -23.9l-23.9 23.9M1170 1400.5l23.9 23.9m0 -23.9l-23.9 23.9M1170 1403.5l23.9 23.9m0 -23.9l-23.9 23.9M1170 1406.5l23.9 23.9m0 -23.9l-23.9 23.9M1170 1409.5l23.9 23.9m0 -23.9l-23.9 23.9M1170 1412.5l23.9 23.9m0 -23.9l-23.9 23.9M1170 1415.5l23.9 23.9m0 -23.9l-23.9 23.9M1170 1418.5l23.9 23.9m0 -23.9l-23.9 23.9M1170 1421.5l23.9 23.9m0 -23.9l-23.9 23.9M1170 1424.5l23.9 23.9m0 -23.9l-23.9 23.9M1170 1427.5l23.9 23.9m0 -23.9l-23.9 23.9M1170 1430.5l23.9 23.9m0 -23.9l-23.9 23.9M1170 1433.5l23.9 23.9m0 -23.9l-23.9 23.9M1170 1436.5l23.9 23.9m0 -23.9l-23.9 23.9M1170 1439.5l23.9 23.9m0 -23.9l-23.9 23.9M1170 1442.5l23.9 23.9m0 -23.9l-23.9 23.9M1170 1445.5l23.9 23.9m0 -23.9l-23.9 23.9M1170 1448.5l23.9 23.9m0 -23.9l-23.9 23.9M1170 1451.5l23.9 23.9m0 -23.9l-23.9 23.9M1170 1454.5l23.9 23.9m0 -23.9l-23.9 23.9M1170 1457.5l23.9 23.9m0 -23.9l-23.9 23.9M1170 1460.5l23.9 23.9m0 -23.9l-23.9 23.9M1170 1463.5l23.9 23.9m0 -23.9l-23.9 23.9M1170 1466.5l23.9 23.9m0 -23.9l-23.9 23.9M1170 1469.5l23.9 23.9m0 -23.9l-23.9 23.9M1170 1472.5l23.9 23.9m0 -23.9l-23.9 23.9M1170 1475.5l23.9 23.9m0 -23.9l-23.9 23.9M1170 1478.5l23.9 23.9m0 -23.9l-23.9 23.9M1170 1481.5l23.9 23.9m0 -23.9l-23.9 23.9M1170 1484.5l23.9 23.9m0 -23.9l-23.9 23.9M1170 1487.5l23.9 23.9m0 -23.9l-23.9 23.9M1170 1490.5l23.9 23.9m0 -23.9l-23.9 23.9M1170 1493.5l23.9 23.9m0 -23.9l-23.9 23.9M1170 1496.5l23.9 23.9m0 -23.9l-23.9 23.9M1170 1499.5l23.9 23.9m0 -23.9l-23.9 23.9M1170 1502.5l23.9 23.9m0 -23.9l-23.9 23.9M1170 1505.5l23.9 23.9m0 -23.9l-23.9 23.9M1170 1508.5l23.9 23.9m0 -23.9l-23.9 23.9M1170 1511.5l23.9 23.9m0 -23.9l-23.9 23.9M1170 1514.5l23.9 23.9m0 -23.9l-23.9 23.9M1170 1517.5l23.9 23.9m0 -23.9l-23.9 23.9M1170 1520.5l23.9 23.9m0 -23.9l-23.9 23.9M1170 1523.5l23.9 23.9m0 -23.9l-23.9 23.9M1170 1526.5l23.9 23.9m0 -23.9l-23.9 23.9M1170 1529.5l23.9 23.9m0 -23.9l-23.9 23.9M1170 1532.5l23.9 23.9m0 -23.9l-23.9 23.9M1170 1535.5l23.9 23.9m0 -23.9l-23.9 23.9M1170 1538.5l23.9 23.9m0 -23.9l-23.9 23.9M1170 1541.5l23.9 23.9m0 -23.9l-23.9 23.9M1170 1544.5l23.9 23.9m0 -23.9l-23.9 23.9M1170 1547.5l23.9 23.9m0 -23.9l-23.9 23.9M1170 1550.5l23.9 23.9m0 -23.9l-23.9 23.9M1170 1553.5l23.9 23.9m0 -23.9l-23.9 23.9M1170 1556.5l23.9 23.9m0 -23.9l-23.9 23.9M1170 1559.5l23.9 23.9m0 -23.9l-23.9 23.9M1170 1562.5l23.9 23.9m0 -23.9l-23.9 23.9M1170 1565.5l23.9 23.9m0 -23.9l-23.9 23.9M1170 1568.5l23.9 23.9m0 -23.9l-23.9 23.9M1170 1571.5l23.9 23.9m0 -23.9l-23.9 23.9M1170 1574.5l23.9 23.9m0 -23.9l-23.9 23.9M1170 1577.5l23.9 23.9m0 -23.9l-23.9 23.9M1170 1580.5l23.9 23.9m0 -23.9l-23.9 23.9M1170 1583.5l23.9 23.9m0 -23.9l-23.9 23.9M1170 1586.5l23.9 23.9m0 -23.9l-23.9 23.9M1170 1589.5l23.9 23.9m0 -23.9l-23.9 23.9M1170 1592.5l23.9 23.9m0 -23.9l-23.9 23.9M1170 1595.5l23.9 23.9m0 -23.9l-23.9 23.9M1170 1598.5l23.9 23.9m0 -23.9l-23.9 23.9M1170 1601.5l23.9 23.9m0 -23.9l-23.9 23.9M1170 1604.5l23.9 23.9m0 -23.9l-23.9 23.9M1170 1607.5l23.9 23.9m0 -23.9l-23.9 23.9M1170 1610.5l23.9 23.9m0 -23.9l-23.9 23.9M1170 1613.5l23.9 23.9m0 -23.9l-23.9 23.9M1170 1616.5l23.9 23.9m0 -23.9l-23.9 23.9M1170 1619.5l23.9 23.9m0 -23.9l-23.9 23.9M1170 1622.5l23.9 23.9m0 -23.9l-23.9 23.9M1170 1625.5l23.9 23.9m0 -23.9l-23.9 23.9M1170 1628.5l23.9 23.9m0 -23.9l-23.9 23.9M1170 1631.5l23.9 23.9m0 -23.9l-23.9 23.9M1170 1634.5l23.9 23.9m0 -23.9l-23.9 23.9M1170 1637.5l23.9 23.9m0 -23.9l-23.9 23.9M1170 1640.5l23.9 23.9m0 -23.9l-23.9 23.9M1170 1643.5l23.9 23.9m0 -23.9l-23.9 23.9M1170 1646.5l23.9 23.9m0 -23.9l-23.9 23.9M1170 1649.5l23.9 23.9m0 -23.9l-23.9 23.9M1170 1652.5l23.9 23.9m0 -23.9l-23.9 23.9M1170 1655.5l23.9 23.9m0 -23.9l-23.9 23.9M1170 1658.5l23.9 23.9m0 -23.9l-23.9 23.9M1170 1661.5l23.9 23.9m0 -23.9l-23.9 23.9M1170 1664.5l23.9 23.9m0 -23.9l-23.9 23.9M1170 1667.5l23.9 23.9m0 -23.9l-23.9 23.9M1170 1670.5l23.9 23.9m0 -23.9l-23.9 23.9M1170 1673.5l23.9 23.9m0 -23.9l-23.9 23.9M1170 1676.5l23.9 23.9m0 -23.9l-23.9 23.9M1170 1679.5l23.9 23.9m0 -23.9l-23.9 23.9M1170 1682.5l23.9 23.9m0 -23.9l-23.9 23.9M1170 1685.5l23.9 23.9m0 -23.9l-23.9 23.9M1170 1688.5l23.9 23.9m0 -23.9l-23.9 23.9M1170 1691.5l23.9 23.9m0 -23.9l-23.9 23.9M1170 1694.5l23.9 23.9m0 -23.9l-23.9 23.9M1170 1697.5l23.9 23.9m0 -23.9l-23.9 23.9M1170 1700.5l23.9 23.9m0 -23.9l-23.9 23.9M1170 1703.5l23.9 23.9m0 -23.9l-23.9 23.9M1170 1706.5l23.9 23.9m0 -23.9l-23.9 23.9M1170 1709.5l23.9 23.9m0 -23.9l-23.9 23.9M1170 1712.5l23.9 23.9m0 -23.9l-23.9 23.9M1170 1715.5l23.9 23.9m0 -23.9l-23.9 23.9M1170 1718.5l23.9 23.9m0 -23.9l-23.9 23.9M1170 1721.5l23.9 23.9m0 -23.9l-23.9 23.9M1170 1724.5l23.9 23.9m0 -23.9l-23.9 23.9M1170 1727.5l23.9 23.9m0 -23.9l-23.9 23.9M1170 1730.5l23.9 23.9m0 -23.9l-23.9 23.9M1170 1733.5l23.9 23.9m0 -23.9l-23.9 23.9M1170 1736.5l23.9 23.9m0 -23.9l-23.9 23.9M1170 1739.5l23.9 23.9m0 -23.9l-23.9 23.9M1170 1742.5l23.9 23.9m0 -23.9l-23.9 23.9M1170 1745.5l23.9 23.9m0 -23.9l-23.9 23.9M1170 1748.5l23.9 23.9m0 -23.9l-23.9 23.9M1170 1751.5l23.9 23.9m0 -23.9l-23.9 23.9M1170 1754.5l23.9 23.9m0 -23.9l-23.9 23.9M1170 1757.5l23.9 23.9m0 -23.9l-23.9 23.9M1170 1760.5l23.9 23.9m0 -23.9l-23.9 23.9M1170 1763.5l23.9 23.9m0 -23.9l-23.9 23.9M1170 1766.5l23.9 23.9m0 -23.9l-23.9 23.9M1170 1769.5l23.9 23.9m0 -23.9l-23.9 23.9M1170 1772.5l23.9 23.9m0 -23.9l-23.9 23.9M1170 1775.5l23.9 23.9m0 -23.9l-23.9 23.9M1170 1778.5l23.9 23.9m0 -23.9l-23.9 23.9M1170 1781.5l23.9 23.9m0 -23.9l-23.9 23.9M1170 1784.5l23.9 23.9m0 -23.9l-23.9 23.9M1170 1787.5l23.9 23.9m0 -23.9l-23.9 23.9M1170 1790.5l23.9 23.9m0 -23.9l-23.9 23.9M1170 1793.5l23.9 23.9m0 -23.9l-23.9 23.9M1170 1796.5l23.9 23.9m0 -23.9l-23.9 23.9M1170 1799.5l23.9 23.9m0 -23.9l-23.9 23.9M1170 1802.5l23.9 23.9m0 -23.9l-23.9 23.9M1170 1805.5l23.9 23.9m0 -23.9l-23.9 23.9M1170 1808.5l23.9 23.9m0 -23.9l-23.9 23.9M1170 1811.5l23.9 23.9m0 -23.9l-23.9 23.9M1170 1814.5l23.9 23.9m0 -23.9l-23.9 23.9M1170 1817.5l23.9 23.9m0 -23.9l-23.9 23.9" stroke="#0072bd" stroke-width="4.4" fill="none"/>
<rect x="1168.5" y="1369" width="27" height="456" fill="#0072bd"/>
<path d="M1174 1455.2h0M1174 1460.1h0M1179 1460.9h0M1174 1476.5h0M1190 1484h0M1186 1481.1h0M1186 1502.5h0M1174 1512.9h0M1186 1511h0M1179 1533.4h0M1186 1540.3h0" stroke="#9cc8e6" stroke-width="3" stroke-linecap="square" fill="none"/>
<path d="M1188 1706h0M1181 1700h0" stroke="#8fc0e2" stroke-width="3" stroke-linecap="square" fill="none"/>
</g>
<g id="c2">
<line x1="1437.6" y1="1354.8" x2="1437.6" y2="1831.5" stroke="#3a3a3a" stroke-width="3.4"/>
<line x1="1440.4" y1="1356.3" x2="1440.4" y2="1830" stroke="#d0d0d0" stroke-width="2"/>
<line x1="1436" y1="1356.3" x2="2336.2" y2="1356.3" stroke="#2a2a2a" stroke-width="3"/>
<line x1="2333" y1="1356.3" x2="2333" y2="1830" stroke="#666" stroke-width="3"/>
<line x1="2335.8" y1="1356.3" x2="2335.8" y2="1830" stroke="#bdbdbd" stroke-width="2.6"/>
<line x1="1436" y1="1830" x2="2336.2" y2="1830" stroke="#1c1c1c" stroke-width="3.4"/>
<line x1="1662" y1="1356.3" x2="1662" y2="1366.3" stroke="#666" stroke-width="3"/>
<line x1="1662" y1="1830" x2="1662" y2="1820" stroke="#666" stroke-width="3"/>
<line x1="1886.1" y1="1356.3" x2="1886.1" y2="1366.3" stroke="#666" stroke-width="3"/>
<line x1="1886.1" y1="1830" x2="1886.1" y2="1820" stroke="#666" stroke-width="3"/>
<line x1="2110.1" y1="1356.3" x2="2110.1" y2="1366.3" stroke="#666" stroke-width="3"/>
<line x1="2110.1" y1="1830" x2="2110.1" y2="1820" stroke="#666" stroke-width="3"/>
<line x1="2323.2" y1="1672.1" x2="2333.2" y2="1672.1" stroke="#222" stroke-width="3"/>
<line x1="2323.2" y1="1514.2" x2="2333.2" y2="1514.2" stroke="#222" stroke-width="3"/>
<path d="M1427.4 1343.5l23.9 23.9m0 -23.9l-23.9 23.9M1427.4 1346.5l23.9 23.9m0 -23.9l-23.9 23.9M1427.4 1349.5l23.9 23.9m0 -23.9l-23.9 23.9M1427.4 1352.5l23.9 23.9m0 -23.9l-23.9 23.9M1427.4 1355.5l23.9 23.9m0 -23.9l-23.9 23.9M1427.4 1358.5l23.9 23.9m0 -23.9l-23.9 23.9M1427.4 1361.5l23.9 23.9m0 -23.9l-23.9 23.9M1427.4 1364.5l23.9 23.9m0 -23.9l-23.9 23.9M1427.4 1367.5l23.9 23.9m0 -23.9l-23.9 23.9M1427.4 1370.5l23.9 23.9m0 -23.9l-23.9 23.9M1427.4 1373.5l23.9 23.9m0 -23.9l-23.9 23.9M1427.4 1376.5l23.9 23.9m0 -23.9l-23.9 23.9M1427.4 1379.5l23.9 23.9m0 -23.9l-23.9 23.9M1427.4 1382.5l23.9 23.9m0 -23.9l-23.9 23.9M1427.4 1385.5l23.9 23.9m0 -23.9l-23.9 23.9M1427.4 1388.5l23.9 23.9m0 -23.9l-23.9 23.9M1427.4 1391.5l23.9 23.9m0 -23.9l-23.9 23.9M1427.4 1394.5l23.9 23.9m0 -23.9l-23.9 23.9M1427.4 1397.5l23.9 23.9m0 -23.9l-23.9 23.9M1427.4 1400.5l23.9 23.9m0 -23.9l-23.9 23.9M1427.4 1403.5l23.9 23.9m0 -23.9l-23.9 23.9M1427.4 1406.5l23.9 23.9m0 -23.9l-23.9 23.9M1427.4 1409.5l23.9 23.9m0 -23.9l-23.9 23.9M1427.4 1412.5l23.9 23.9m0 -23.9l-23.9 23.9M1427.4 1415.5l23.9 23.9m0 -23.9l-23.9 23.9M1427.4 1418.5l23.9 23.9m0 -23.9l-23.9 23.9M1427.4 1421.5l23.9 23.9m0 -23.9l-23.9 23.9M1427.4 1424.5l23.9 23.9m0 -23.9l-23.9 23.9M1427.4 1427.5l23.9 23.9m0 -23.9l-23.9 23.9M1427.4 1430.5l23.9 23.9m0 -23.9l-23.9 23.9M1427.4 1433.5l23.9 23.9m0 -23.9l-23.9 23.9M1427.4 1436.5l23.9 23.9m0 -23.9l-23.9 23.9M1427.4 1439.5l23.9 23.9m0 -23.9l-23.9 23.9M1427.4 1442.5l23.9 23.9m0 -23.9l-23.9 23.9M1427.4 1445.5l23.9 23.9m0 -23.9l-23.9 23.9M1427.4 1448.5l23.9 23.9m0 -23.9l-23.9 23.9M1427.4 1451.5l23.9 23.9m0 -23.9l-23.9 23.9M1427.4 1454.5l23.9 23.9m0 -23.9l-23.9 23.9M1427.4 1457.5l23.9 23.9m0 -23.9l-23.9 23.9M1427.4 1460.5l23.9 23.9m0 -23.9l-23.9 23.9M1427.4 1463.5l23.9 23.9m0 -23.9l-23.9 23.9M1427.4 1466.5l23.9 23.9m0 -23.9l-23.9 23.9M1427.4 1469.5l23.9 23.9m0 -23.9l-23.9 23.9M1427.4 1472.5l23.9 23.9m0 -23.9l-23.9 23.9M1427.4 1475.5l23.9 23.9m0 -23.9l-23.9 23.9M1427.4 1478.5l23.9 23.9m0 -23.9l-23.9 23.9M1427.4 1481.5l23.9 23.9m0 -23.9l-23.9 23.9M1427.4 1484.5l23.9 23.9m0 -23.9l-23.9 23.9M1427.4 1487.5l23.9 23.9m0 -23.9l-23.9 23.9M1427.4 1490.5l23.9 23.9m0 -23.9l-23.9 23.9M1427.4 1493.5l23.9 23.9m0 -23.9l-23.9 23.9M1427.4 1496.5l23.9 23.9m0 -23.9l-23.9 23.9M1427.4 1499.5l23.9 23.9m0 -23.9l-23.9 23.9M1427.4 1502.5l23.9 23.9m0 -23.9l-23.9 23.9M1427.4 1505.5l23.9 23.9m0 -23.9l-23.9 23.9M1427.4 1508.5l23.9 23.9m0 -23.9l-23.9 23.9M1427.4 1511.5l23.9 23.9m0 -23.9l-23.9 23.9M1427.4 1514.5l23.9 23.9m0 -23.9l-23.9 23.9M1427.4 1517.5l23.9 23.9m0 -23.9l-23.9 23.9M1427.4 1520.5l23.9 23.9m0 -23.9l-23.9 23.9M1427.4 1523.5l23.9 23.9m0 -23.9l-23.9 23.9M1427.4 1526.5l23.9 23.9m0 -23.9l-23.9 23.9M1427.4 1529.5l23.9 23.9m0 -23.9l-23.9 23.9M1427.4 1532.5l23.9 23.9m0 -23.9l-23.9 23.9M1427.4 1535.5l23.9 23.9m0 -23.9l-23.9 23.9M1427.4 1538.5l23.9 23.9m0 -23.9l-23.9 23.9M1427.4 1541.5l23.9 23.9m0 -23.9l-23.9 23.9M1427.4 1544.5l23.9 23.9m0 -23.9l-23.9 23.9M1427.4 1547.5l23.9 23.9m0 -23.9l-23.9 23.9M1427.4 1550.5l23.9 23.9m0 -23.9l-23.9 23.9M1427.4 1553.5l23.9 23.9m0 -23.9l-23.9 23.9M1427.4 1556.5l23.9 23.9m0 -23.9l-23.9 23.9M1427.4 1559.5l23.9 23.9m0 -23.9l-23.9 23.9M1427.4 1562.5l23.9 23.9m0 -23.9l-23.9 23.9M1427.4 1565.5l23.9 23.9m0 -23.9l-23.9 23.9M1427.4 1568.5l23.9 23.9m0 -23.9l-23.9 23.9M1427.4 1571.5l23.9 23.9m0 -23.9l-23.9 23.9M1427.4 1574.5l23.9 23.9m0 -23.9l-23.9 23.9M1427.4 1577.5l23.9 23.9m0 -23.9l-23.9 23.9M1427.4 1580.5l23.9 23.9m0 -23.9l-23.9 23.9M1427.4 1583.5l23.9 23.9m0 -23.9l-23.9 23.9M1427.4 1586.5l23.9 23.9m0 -23.9l-23.9 23.9M1427.4 1589.5l23.9 23.9m0 -23.9l-23.9 23.9M1427.4 1592.5l23.9 23.9m0 -23.9l-23.9 23.9M1427.4 1595.5l23.9 23.9m0 -23.9l-23.9 23.9M1427.4 1598.5l23.9 23.9m0 -23.9l-23.9 23.9M1427.4 1601.5l23.9 23.9m0 -23.9l-23.9 23.9M1427.4 1604.5l23.9 23.9m0 -23.9l-23.9 23.9M1427.4 1607.5l23.9 23.9m0 -23.9l-23.9 23.9M1427.4 1610.5l23.9 23.9m0 -23.9l-23.9 23.9M1427.4 1613.5l23.9 23.9m0 -23.9l-23.9 23.9M1427.4 1616.5l23.9 23.9m0 -23.9l-23.9 23.9M1427.4 1619.5l23.9 23.9m0 -23.9l-23.9 23.9M1427.4 1622.5l23.9 23.9m0 -23.9l-23.9 23.9M1427.4 1625.5l23.9 23.9m0 -23.9l-23.9 23.9M1427.4 1628.5l23.9 23.9m0 -23.9l-23.9 23.9M1427.4 1631.5l23.9 23.9m0 -23.9l-23.9 23.9M1427.4 1634.5l23.9 23.9m0 -23.9l-23.9 23.9M1427.4 1637.5l23.9 23.9m0 -23.9l-23.9 23.9M1427.4 1640.5l23.9 23.9m0 -23.9l-23.9 23.9M1427.4 1643.5l23.9 23.9m0 -23.9l-23.9 23.9M1427.4 1646.5l23.9 23.9m0 -23.9l-23.9 23.9M1427.4 1649.5l23.9 23.9m0 -23.9l-23.9 23.9M1427.4 1652.5l23.9 23.9m0 -23.9l-23.9 23.9M1427.4 1655.5l23.9 23.9m0 -23.9l-23.9 23.9M1427.4 1658.5l23.9 23.9m0 -23.9l-23.9 23.9M1427.4 1661.5l23.9 23.9m0 -23.9l-23.9 23.9M1427.4 1664.5l23.9 23.9m0 -23.9l-23.9 23.9M1427.4 1667.5l23.9 23.9m0 -23.9l-23.9 23.9M1427.4 1670.5l23.9 23.9m0 -23.9l-23.9 23.9M1427.4 1673.5l23.9 23.9m0 -23.9l-23.9 23.9M1427.4 1676.5l23.9 23.9m0 -23.9l-23.9 23.9" stroke="#0072bd" stroke-width="4.4" fill="none"/>
<rect x="1425.9" y="1363" width="27" height="326" fill="#0072bd"/>
<path d="M1443.9 1675l26.1 26.1m0 -26.1l-26.1 26.1M1451.9 1675.2l26.1 26.1m0 -26.1l-26.1 26.1M1460.9 1675.6l26.1 26.1m0 -26.1l-26.1 26.1M1466.9 1677.9l26.1 26.1m0 -26.1l-26.1 26.1M1475.9 1678.7l26.1 26.1m0 -26.1l-26.1 26.1M1484.9 1678.3l26.1 26.1m0 -26.1l-26.1 26.1M1492.9 1682.7l26.1 26.1m0 -26.1l-26.1 26.1M1502.9 1683.9l26.1 26.1m0 -26.1l-26.1 26.1M1531.9 1685.9l26.1 26.1m0 -26.1l-26.1 26.1M1554.9 1696.9l26.1 26.1m0 -26.1l-26.1 26.1M1526.9 1719.9l26.1 26.1m0 -26.1l-26.1 26.1M1560.9 1719.9l26.1 26.1m0 -26.1l-26.1 26.1M1570.9 1762.9l26.1 26.1m0 -26.1l-26.1 26.1M1516.9 1682.9l26.1 26.1m0 -26.1l-26.1 26.1M1450.9 1758.7l26.1 26.1m0 -26.1l-26.1 26.1M1461.9 1753.8l26.1 26.1m0 -26.1l-26.1 26.1M1470.9 1760.5l26.1 26.1m0 -26.1l-26.1 26.1M1477.9 1758.1l26.1 26.1m0 -26.1l-26.1 26.1M1484.9 1762l26.1 26.1m0 -26.1l-26.1 26.1M1491.9 1760.2l26.1 26.1m0 -26.1l-26.1 26.1M1498.9 1753.9l26.1 26.1m0 -26.1l-26.1 26.1M1503.9 1756.8l26.1 26.1m0 -26.1l-26.1 26.1M1510.9 1754l26.1 26.1m0 -26.1l-26.1 26.1M1519.9 1756.3l26.1 26.1m0 -26.1l-26.1 26.1" stroke="#0072bd" stroke-width="2.7" fill="none"/>
<path d="M1874.9 1687l23.9 23.9m0 -23.9l-23.9 23.9M1874.9 1690l23.9 23.9m0 -23.9l-23.9 23.9M1874.9 1693l23.9 23.9m0 -23.9l-23.9 23.9M1874.9 1696l23.9 23.9m0 -23.9l-23.9 23.9M1874.9 1699l23.9 23.9m0 -23.9l-23.9 23.9M1874.9 1702l23.9 23.9m0 -23.9l-23.9 23.9M1874.9 1705l23.9 23.9m0 -23.9l-23.9 23.9M1874.9 1708l23.9 23.9m0 -23.9l-23.9 23.9M1874.9 1711l23.9 23.9m0 -23.9l-23.9 23.9M1874.9 1714l23.9 23.9m0 -23.9l-23.9 23.9M1874.9 1717l23.9 23.9m0 -23.9l-23.9 23.9M1874.9 1720l23.9 23.9m0 -23.9l-23.9 23.9M1874.9 1723l23.9 23.9m0 -23.9l-23.9 23.9M1874.9 1726l23.9 23.9m0 -23.9l-23.9 23.9M1874.9 1729l23.9 23.9m0 -23.9l-23.9 23.9M1874.9 1732l23.9 23.9m0 -23.9l-23.9 23.9M1874.9 1735l23.9 23.9m0 -23.9l-23.9 23.9M1874.9 1738l23.9 23.9m0 -23.9l-23.9 23.9M1874.9 1741l23.9 23.9m0 -23.9l-23.9 23.9M1874.9 1744l23.9 23.9m0 -23.9l-23.9 23.9M1874.9 1747l23.9 23.9m0 -23.9l-23.9 23.9M1874.9 1750l23.9 23.9m0 -23.9l-23.9 23.9M1874.9 1753l23.9 23.9m0 -23.9l-23.9 23.9M1874.9 1756l23.9 23.9m0 -23.9l-23.9 23.9M1874.9 1759l23.9 23.9m0 -23.9l-23.9 23.9M1874.9 1762l23.9 23.9m0 -23.9l-23.9 23.9M1874.9 1765l23.9 23.9m0 -23.9l-23.9 23.9M1874.9 1768l23.9 23.9m0 -23.9l-23.9 23.9M1874.9 1771l23.9 23.9m0 -23.9l-23.9 23.9M1874.9 1774l23.9 23.9m0 -23.9l-23.9 23.9M1874.9 1777l23.9 23.9m0 -23.9l-23.9 23.9M1874.9 1780l23.9 23.9m0 -23.9l-23.9 23.9M1874.9 1783l23.9 23.9m0 -23.9l-23.9 23.9M1874.9 1786l23.9 23.9m0 -23.9l-23.9 23.9M1874.9 1789l23.9 23.9m0 -23.9l-23.9 23.9M1874.9 1792l23.9 23.9m0 -23.9l-23.9 23.9M1874.9 1795l23.9 23.9m0 -23.9l-23.9 23.9M1874.9 1798l23.9 23.9m0 -23.9l-23.9 23.9M1874.9 1801l23.9 23.9m0 -23.9l-23.9 23.9M1874.9 1804l23.9 23.9m0 -23.9l-23.9 23.9" stroke="#0072bd" stroke-width="4.4" fill="none"/>
<rect x="1873.4" y="1707" width="27" height="103" fill="#0072bd"/>
<polygon points="1876.5,1766 1886.9,1757 1897.3,1766 1886.9,1775" fill="#fff"/>
<path d="M2321.8 1694.3l25.5 25.5m0 -25.5l-25.5 25.5M2321.8 1705.3l25.5 25.5m0 -25.5l-25.5 25.5" stroke="#0072bd" stroke-width="3.6" fill="none"/>
<path d="M2322.5 1729l23.9 23.9m0 -23.9l-23.9 23.9M2322.5 1732l23.9 23.9m0 -23.9l-23.9 23.9M2322.5 1735l23.9 23.9m0 -23.9l-23.9 23.9M2322.5 1738l23.9 23.9m0 -23.9l-23.9 23.9M2322.5 1741l23.9 23.9m0 -23.9l-23.9 23.9M2322.5 1744l23.9 23.9m0 -23.9l-23.9 23.9M2322.5 1747l23.9 23.9m0 -23.9l-23.9 23.9M2322.5 1750l23.9 23.9m0 -23.9l-23.9 23.9M2322.5 1753l23.9 23.9m0 -23.9l-23.9 23.9" stroke="#0072bd" stroke-width="4.4" fill="none"/>
<rect x="2321" y="1748" width="27" height="12" fill="#0072bd"/>
<path d="M2321.8 1718.3l25.3 25.3m0 -25.3l-25.3 25.3M2321.8 1723.3l25.3 25.3m0 -25.3l-25.3 25.3M2321.8 1756.3l25.3 25.3m0 -25.3l-25.3 25.3" stroke="#0072bd" stroke-width="3.8" fill="none"/>
<path d="M2322.5 1788l23.9 23.9m0 -23.9l-23.9 23.9M2322.5 1791l23.9 23.9m0 -23.9l-23.9 23.9M2322.5 1794l23.9 23.9m0 -23.9l-23.9 23.9M2322.5 1797l23.9 23.9m0 -23.9l-23.9 23.9M2322.5 1800l23.9 23.9m0 -23.9l-23.9 23.9M2322.5 1803l23.9 23.9m0 -23.9l-23.9 23.9M2322.5 1806l23.9 23.9m0 -23.9l-23.9 23.9M2322.5 1809l23.9 23.9m0 -23.9l-23.9 23.9M2322.5 1812l23.9 23.9m0 -23.9l-23.9 23.9M2322.5 1815l23.9 23.9m0 -23.9l-23.9 23.9" stroke="#0072bd" stroke-width="4.4" fill="none"/>
<rect x="2321" y="1806" width="27" height="18" fill="#0072bd"/>
</g>
<g id="labels">
<text x="230.5" y="103.5" font-size="64" text-anchor="end" fill="#262626">300</text>
<text x="230.5" y="263.5" font-size="64" text-anchor="end" fill="#262626">200</text>
<text x="230.5" y="423.5" font-size="64" text-anchor="end" fill="#262626">100</text>
<text x="230.5" y="583" font-size="64" text-anchor="end" fill="#262626">0</text>
<text x="1403.5" y="107" font-size="64" text-anchor="end" fill="#262626">300</text>
<text x="1403.5" y="265.5" font-size="64" text-anchor="end" fill="#262626">200</text>
<text x="1403.5" y="424.5" font-size="64" text-anchor="end" fill="#262626">100</text>
<text x="1403.5" y="583.5" font-size="64" text-anchor="end" fill="#262626">0</text>
<text x="223" y="687" font-size="64" text-anchor="end" fill="#262626">0.02</text>
<text x="223" y="1190" font-size="64" text-anchor="end" fill="#262626">0</text>
<text x="1406" y="689.5" font-size="64" text-anchor="end" fill="#262626">0.02</text>
<text x="1406" y="1179" font-size="64" text-anchor="end" fill="#262626">0</text>
<text x="242" y="1383" font-size="64" text-anchor="end" fill="#262626">300</text>
<text x="242" y="1540.6" font-size="64" text-anchor="end" fill="#262626">200</text>
<text x="242" y="1698" font-size="64" text-anchor="end" fill="#262626">100</text>
<text x="242" y="1855.7" font-size="64" text-anchor="end" fill="#262626">0</text>
<text x="1412" y="1380.3" font-size="64" text-anchor="end" fill="#262626">300</text>
<text x="1412" y="1538.2" font-size="64" text-anchor="end" fill="#262626">200</text>
<text x="1412" y="1696" font-size="64" text-anchor="end" fill="#262626">100</text>
<text x="1412" y="1854" font-size="64" text-anchor="end" fill="#262626">0</text>
<text x="257" y="646" font-size="64" text-anchor="middle" fill="#262626">6</text>
<text x="562" y="646" font-size="64" text-anchor="middle" fill="#262626">8</text>
<text x="866.5" y="646" font-size="64" text-anchor="middle" fill="#262626">10</text>
<text x="1172" y="646" font-size="64" text-anchor="middle" fill="#262626">12</text>
<text x="1428.5" y="647" font-size="64" text-anchor="middle" fill="#262626">6</text>
<text x="1731" y="647" font-size="64" text-anchor="middle" fill="#262626">8</text>
<text x="2032.5" y="647" font-size="64" text-anchor="middle" fill="#262626">10</text>
<text x="2333" y="647" font-size="64" text-anchor="middle" fill="#262626">12</text>
<text x="248.5" y="1252" font-size="64" text-anchor="middle" fill="#262626">6</text>
<text x="557.5" y="1252" font-size="64" text-anchor="middle" fill="#262626">8</text>
<text x="867" y="1252" font-size="64" text-anchor="middle" fill="#262626">10</text>
<text x="1175" y="1252" font-size="64" text-anchor="middle" fill="#262626">12</text>
<text x="1429.5" y="1241.5" font-size="64" text-anchor="middle" fill="#262626">6</text>
<text x="1732.5" y="1241.5" font-size="64" text-anchor="middle" fill="#262626">8</text>
<text x="2035" y="1241.5" font-size="64" text-anchor="middle" fill="#262626">10</text>
<text x="2337" y="1241.5" font-size="64" text-anchor="middle" fill="#262626">12</text>
<text x="266.5" y="1917.5" font-size="64" text-anchor="middle" fill="#262626">1</text>
<text x="725.5" y="1917.5" font-size="64" text-anchor="middle" fill="#262626">1.5</text>
<text x="1181" y="1917.5" font-size="64" text-anchor="middle" fill="#262626">2</text>
<text x="1439" y="1915" font-size="64" text-anchor="middle" fill="#262626">0</text>
<text x="1661.5" y="1915" font-size="64" text-anchor="middle" fill="#262626">0.5</text>
<text x="1886.5" y="1915" font-size="64" text-anchor="middle" fill="#262626">1</text>
<text x="2110" y="1915" font-size="64" text-anchor="middle" fill="#262626">1.5</text>
<text x="2334" y="1915" font-size="64" text-anchor="middle" fill="#262626">2</text>
<text x="729" y="1314.5" font-size="78" text-anchor="middle" fill="#262626">Time(ns)</text>
<text x="1884.7" y="1315" font-size="78" text-anchor="middle" fill="#262626">Time(ns)</text>
<text x="725" y="2008" font-size="78" text-anchor="middle" fill="#262626">Distance</text>
<text x="1888.5" y="2005" font-size="78" text-anchor="middle" fill="#262626">Distance</text>
<text transform="translate(110 320) rotate(-90)" font-size="78" text-anchor="middle" fill="#262626">Epochs</text>
<text transform="translate(1290 320.5) rotate(-90)" font-size="78" text-anchor="middle" fill="#262626">Epochs</text>
<text transform="translate(118.7 1596.5) rotate(-90)" font-size="78" text-anchor="middle" fill="#262626">Epochs</text>
<text transform="translate(1304 1594.5) rotate(-90)" font-size="78" text-anchor="middle" fill="#262626">Epochs</text>
<text transform="translate(128.3 1057.5) rotate(-90)" font-size="78" fill="#262626">P<tspan dy="38" dx="1" font-size="58">out</tspan><tspan dy="-38" dx="6" font-size="78">(a.u.)</tspan></text>
<text transform="translate(1310 1050.5) rotate(-90)" font-size="78" fill="#262626">P<tspan dy="38" dx="1" font-size="58">out</tspan><tspan dy="-38" dx="6" font-size="78">(a.u.)</tspan></text>
<text x="264" y="142" font-size="78" text-anchor="start" fill="#000">(a1)</text>
<text x="1439" y="148" font-size="78" text-anchor="start" fill="#000">(a2)</text>
<text x="257.5" y="727.7" font-size="78" text-anchor="start" fill="#000">(b1)</text>
<text x="1443.5" y="736" font-size="78" text-anchor="start" fill="#000">(b2)</text>
<text x="284" y="1428" font-size="78" text-anchor="start" fill="#000">(c1)</text>
<text x="1452" y="1427" font-size="78" text-anchor="start" fill="#000">(c2)</text>
</g>
</svg></body></html>
